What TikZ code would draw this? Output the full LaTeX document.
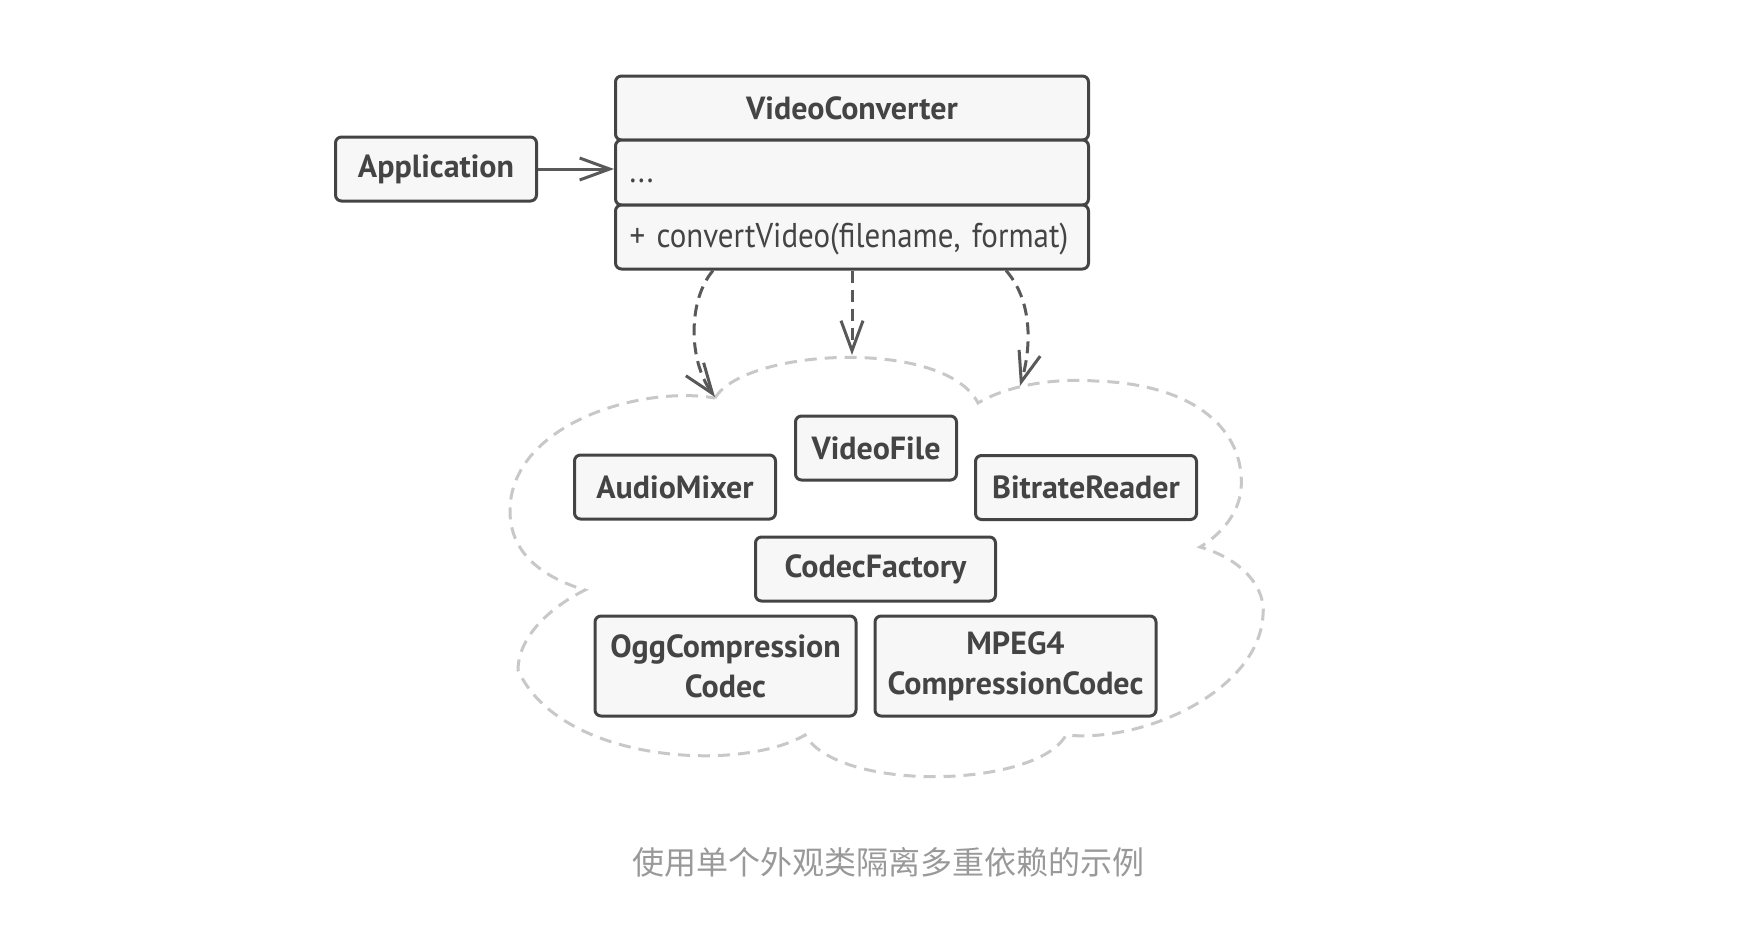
\documentclass[tikz,border=0pt]{standalone}
\usepackage{fontspec}
\setmainfont{PT Sans}
\newfontfamily\narrowfont{PT Sans}[FakeStretch=0.9]
\newfontfamily\cjk{Noto Sans CJK SC}
\usetikzlibrary{arrows.meta}

\definecolor{edge}{HTML}{444444}
\definecolor{wire}{HTML}{595959}
\definecolor{boxfill}{HTML}{F7F7F7}
\definecolor{cloudline}{HTML}{C8C8C8}
\definecolor{captiongray}{HTML}{999999}

\begin{document}
\begin{tikzpicture}[x=0.5pt, y=-0.5pt]
		\tikzset{
			box/.style={
				draw=edge,
				line width=1.5pt,
				fill=boxfill,
				rounded corners=3pt,
				text=edge,
				font=\bfseries\fontsize{16}{20}\selectfont,
				align=center,
				inner sep=0pt,
				minimum height=32pt
			},
			member/.style={
				box,
				font=\narrowfont\fontsize{17.2}{20}\selectfont,
				align=left,
				text width=222.5pt,
				text height=13pt,
				text depth=3pt,
				inner xsep=7pt
			},
			line/.style={
				-{Straight Barb[length=15pt, width=11pt]},
				draw=wire,
				line width=1.5pt
			},
			dep/.style={
				line,
				dash pattern=on 6pt off 3.5pt
			},
			cloud/.style={
				draw=cloudline,
				line width=1.5pt,
				dash pattern=on 6pt off 4pt
			}
		}

		\useasboundingbox (0,0) rectangle (1760,950);

		\node[box, minimum width=100.5pt] (app) at (436,169)
			{Application};

		\node[box, minimum width=236.5pt] (vc) at (852,108)
			{VideoConverter};
		\node[member, minimum height=32.5pt] (fields) at (852,172.5)
			{...};
		\node[member] (methods) at (852,237)
			{\mbox{+ convertVideo(filename, format)}};

		% facade subsystem
		\draw[cloud] (715,398)
			.. controls (745,348) and (945,338) .. (978,403)
			.. controls (1008,385) and (1055,378) .. (1095,381)
			.. controls (1195,384) and (1246,430) .. (1241,490)
			.. controls (1238,515) and (1220,535) .. (1200,547)
			.. controls (1245,560) and (1266,590) .. (1263,615)
			.. controls (1259,690) and (1145,743) .. (1066,735)
			.. controls (1037,788) and (840,793) .. (805,735)
			.. controls (740,773) and (560,763) .. (518,670)
			.. controls (518,640) and (545,610) .. (585,590)
			.. controls (545,578) and (511,555) .. (510,513)
			.. controls (508,425) and (640,385) .. (715,398);

		\coordinate (cusp-left) at (715,397);
		\coordinate (cloud-top) at (852,355);
		\coordinate (cusp-right) at (1020,386);

		\node[box, minimum width=80.5pt] (videofile) at (876,448)
			{VideoFile};
		\node[box, minimum width=100.5pt] (audiomixer) at (675,487)
			{AudioMixer};
		\node[box, minimum width=110.5pt] (bitrate) at (1086,487.5)
			{BitrateReader};
		\node[box, minimum width=120pt] (factory) at (875.5,569)
			{CodecFactory};
		\node[box, minimum width=130.5pt, minimum height=50pt] (ogg) at (725.5,666)
			{OggCompression\\Codec};
		\node[box, minimum width=140.5pt, minimum height=50pt] (mpeg) at (1015.5,666)
			{MPEG4\\CompressionCodec};

		\node[text=captiongray, font=\cjk\fontsize{16}{18}\selectfont] (caption) at (888,862)
			{使用单个外观类隔离多重依赖的示例};

		\draw[line] (app.east) -- (app.east -| fields.west);

		\draw[dep] ([xshift=-69.5pt]methods.south) .. controls (688,300) and (688,360) .. (cusp-left);
		\draw[dep] (methods.south) -- (cloud-top);
		\draw[dep] ([xshift=77pt]methods.south) .. controls (1032,300) and (1032,345) .. (cusp-right);

	\end{tikzpicture}
\end{document}
